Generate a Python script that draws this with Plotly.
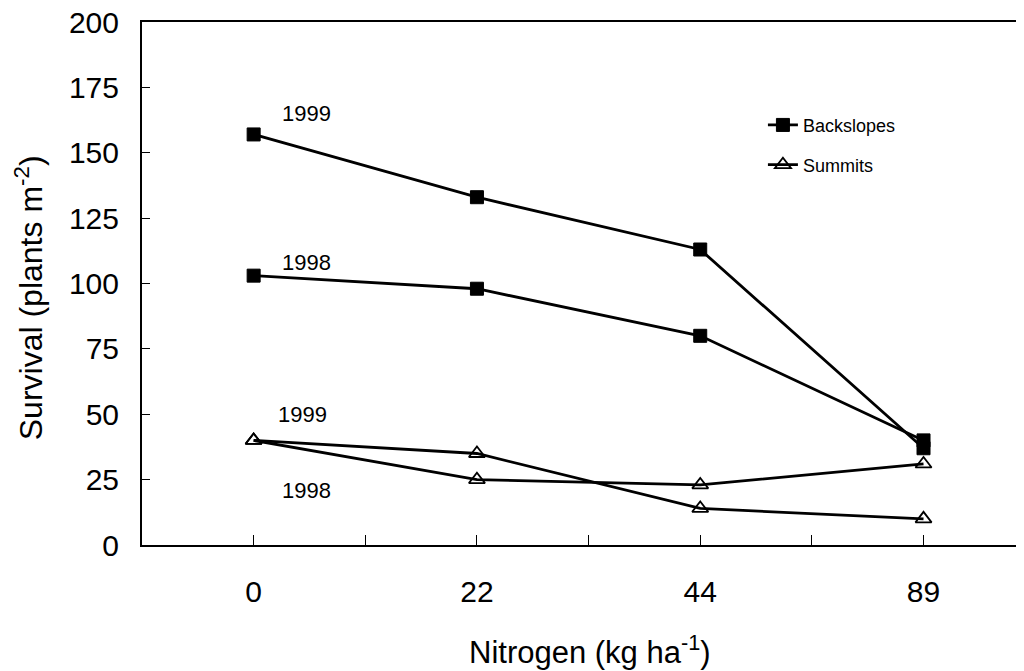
import plotly.graph_objects as go

nitrogen = ["0", "22", "44", "89"]
x_pos = [0, 1, 2, 3]
back_1999 = [157, 133, 113, 37]
back_1998 = [103, 98, 80, 40]
summ_1999 = [40, 35, 14, 10]
summ_1998 = [40, 25, 23, 31]
y_ticks = [0, 25, 50, 75, 100, 125, 150, 175, 200]

FONT = "Liberation Sans, Arial, sans-serif"
fig = go.Figure()

sq = dict(symbol="square", size=13, color="black", line=dict(color="black", width=1))
tri = dict(symbol="triangle-up-open", size=14, color="black", line=dict(color="black", width=1.8))
ln = dict(color="black", width=2.8)

fig.add_trace(go.Scatter(x=x_pos, y=back_1999, mode="lines+markers", marker=sq, line=ln,
                         name="Backslopes", legend="legend"))
fig.add_trace(go.Scatter(x=x_pos, y=back_1998, mode="lines+markers", marker=sq, line=ln,
                         name="Backslopes", showlegend=False))
fig.add_trace(go.Scatter(x=x_pos, y=summ_1999, mode="lines+markers", marker=tri, line=ln,
                         name="Summits", legend="legend2"))
fig.add_trace(go.Scatter(x=x_pos, y=summ_1998, mode="lines+markers", marker=tri, line=ln,
                         name="Summits", showlegend=False))

ann = [
    (0.12, 165, "1999"),
    (0.12, 108, "1998"),
    (0.10, 50, "1999"),
    (0.12, 21, "1998"),
]
for xa, ya, t in ann:
    fig.add_annotation(x=xa, y=ya, text=t, showarrow=False, xanchor="left",
                       font=dict(family=FONT, size=22, color="black"))

# axis titles
fig.add_annotation(xref="paper", yref="paper", x=0.508, y=-0.2, text="Nitrogen (kg ha<sup>-1</sup>)",
                   showarrow=False, xanchor="center", yanchor="middle",
                   font=dict(family=FONT, size=31, color="black"))
fig.add_annotation(xref="paper", yref="paper", x=-0.128, y=0.472, text="Survival (plants m<sup>-2</sup>)",
                   showarrow=False, xanchor="center", yanchor="middle", textangle=-90,
                   font=dict(family=FONT, size=32, color="black"))

tickvals = [0, 0.5, 1, 1.5, 2, 2.5, 3, 3.5]
ticktext = ["0", "", "22", "", "44", "", "89", ""]

# page body adds an 8px margin, so the figure is sized to fit the 1024x671 window
fig.update_layout(
    width=1016, height=663,
    margin=dict(l=134, r=0, t=14, b=126),
    paper_bgcolor="white", plot_bgcolor="white",
    font=dict(family=FONT, color="black"),
    xaxis=dict(range=[-0.5, 3.45], tickvals=tickvals, ticktext=ticktext,
               ticks="inside", ticklen=10, tickwidth=1, tickcolor="black",
               showline=True, linecolor="black", linewidth=2, mirror=True,
               showgrid=False, zeroline=False, automargin=False,
               tickfont=dict(size=30, family=FONT), ticklabelstandoff=19,
               ticklabeloverflow="allow"),
    yaxis=dict(range=[0, 200], tickvals=y_ticks,
               ticks="inside", ticklen=8, tickwidth=1, tickcolor="black",
               showline=True, linecolor="black", linewidth=2,
               showgrid=False, zeroline=False, automargin=False,
               tickfont=dict(size=30, family=FONT), ticklabelstandoff=15,
               ticklabeloverflow="allow"),
    legend=dict(x=0.704, y=0.838, xanchor="left", yanchor="top",
                font=dict(size=18, family=FONT), bgcolor="rgba(0,0,0,0)"),
    legend2=dict(x=0.704, y=0.762, xanchor="left", yanchor="top",
                 font=dict(size=18, family=FONT), bgcolor="rgba(0,0,0,0)"),
)

fig.write_html("out.html")
